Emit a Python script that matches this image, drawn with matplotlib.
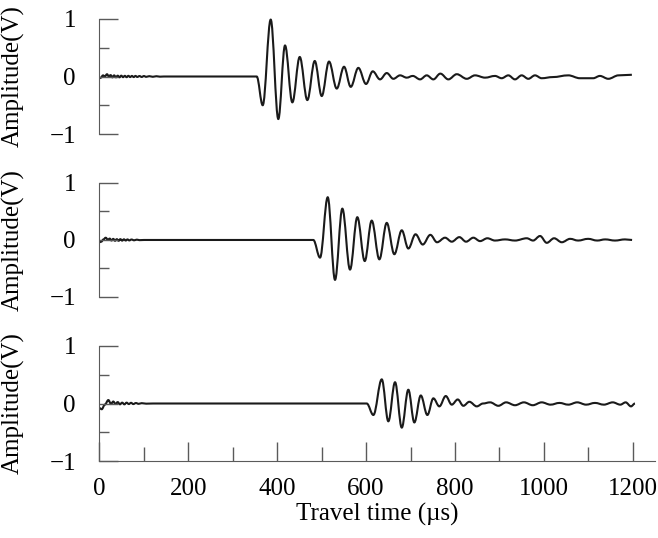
import matplotlib
matplotlib.use("Agg")
import matplotlib.pyplot as plt
from matplotlib.ticker import MultipleLocator
from matplotlib.path import Path
from matplotlib.patches import PathPatch

plt.rcParams['font.family'] = ['Liberation Serif', 'DejaVu Serif']

# travel time (us) and amplitude (V) at the turning points of each trace
t1 = [0, 3, 8, 12, 17, 21, 25, 29, 33, 37, 41, 45, 49, 53, 57, 61, 65, 69, 73, 77,
      81, 85, 90, 95, 100, 105, 112, 120, 128, 136, 145,
      353.8, 367.3, 385.3, 402.4, 417.5, 434, 450.6, 467.7, 484.4, 500.1, 516.5,
      533.9, 550.3, 565.4, 582.5, 599.8, 614.9, 631.3, 646.4, 661.3, 676.4, 691.4,
      705, 721.4, 736.4, 751.3, 767, 785, 804, 826.5, 845, 867.7, 890, 905, 920,
      935, 950, 965, 980, 995, 1020, 1055, 1081, 1111, 1126, 1145, 1168, 1198]
v1 = [-0.03, -0.02, 0.02, 0.0, 0.04, 0.0, 0.025, -0.015, 0.02, -0.015, 0.015, -0.015,
      0.015, -0.012, 0.012, -0.012, 0.012, -0.01, 0.01, -0.01, 0.01, -0.008, 0.008, -0.008,
      0.008, -0.006, 0.006, -0.005, 0.005, -0.003, 0.0,
      0.0, -0.50, 0.99, -0.74, 0.54, -0.45, 0.34, -0.41, 0.27, -0.34, 0.26,
      -0.21, 0.17, -0.18, 0.15, -0.13, 0.09, -0.05, 0.06, -0.04, 0.02, -0.02,
      0.01, -0.05, 0.02, -0.05, 0.05, -0.05, 0.04, -0.04, 0.02, -0.02, 0.01, -0.03, 0.02,
      -0.05, 0.02, -0.04, 0.02, -0.03, -0.01, 0.02, -0.03, -0.03, 0.01, -0.04, 0.02, 0.03]

t2 = [0, 4, 9, 14, 19, 23, 27, 31, 35, 39, 43, 47, 51, 55, 59, 63, 67, 72, 78, 84, 90, 100,
      481.2, 496.3, 513.6, 530, 546.5, 563.8, 580.2, 596.9, 612.6, 629.8, 646.4,
      663.5, 680.2, 695, 711.2, 727.4, 744.5, 759.6, 777.6, 792.7, 809.8, 824.9,
      841.3, 856.4, 872.8, 890, 912.6, 935, 961.5, 975.7, 991.4, 1006.5, 1023,
      1040.3, 1059, 1077, 1099.5, 1120, 1138, 1160, 1182.5, 1198.5]
v2 = [-0.04, -0.03, 0.01, 0.04, 0.0, 0.025, -0.01, 0.02, -0.015, 0.015, -0.015, 0.015,
      -0.012, 0.012, -0.01, 0.01, -0.008, 0.008, -0.006, 0.006, -0.003, 0.0,
      0.0, -0.31, 0.75, -0.70, 0.55, -0.52, 0.40, -0.37, 0.34, -0.34, 0.30,
      -0.25, 0.17, -0.15, 0.10, -0.08, 0.09, -0.04, 0.04, -0.03, 0.05, -0.03,
      0.04, -0.02, 0.03, -0.01, 0.01, -0.01, 0.03, -0.01, 0.07, -0.05, 0.03,
      -0.04, 0.02, -0.01, 0.02, -0.01, 0.01, -0.01, 0.01, 0.0]

t3 = [0, 5, 12, 20, 26, 31, 36, 41, 46, 51, 56, 61, 66, 71, 76, 82, 88, 95, 105, 120,
      601.4, 616.3, 635.2, 650, 665.1, 680.2, 695, 708.5, 723, 737.8, 751.3, 764.8,
      779.2, 792.7, 806.2, 818.8, 832.3, 849, 863, 879, 897.6, 915, 935, 955, 975,
      995, 1015, 1035, 1055, 1075, 1095, 1115, 1135, 1155, 1172, 1184, 1196, 1205]
v3 = [-0.08, -0.10, -0.02, 0.06, -0.01, 0.035, -0.01, 0.025, -0.015, 0.015, -0.015, 0.015,
      -0.01, 0.012, -0.01, 0.008, -0.006, 0.006, -0.003, 0.0,
      0.0, -0.20, 0.42, -0.31, 0.37, -0.42, 0.24, -0.33, 0.14, -0.20, 0.09, -0.05,
      0.13, -0.02, 0.07, -0.04, 0.03, -0.05, 0.0, 0.02, -0.04, 0.02, -0.03, 0.02, -0.03,
      0.02, -0.02, 0.01, -0.02, 0.02, -0.02, 0.01, -0.02, 0.02, -0.02, 0.02, -0.05, 0.0]

traces = [(t1, v1), (t2, v2), (t3, v3)]

xticks = [0, 200, 400, 600, 800, 1000, 1200]
yticks = [-1, 0, 1]


def wave_path(t, v):
    # smooth curve through the turning points (flat tangent at each one)
    verts = [(t[0], v[0])]
    codes = [Path.MOVETO]
    for k in range(1, len(t)):
        d = t[k] - t[k - 1]
        verts += [(t[k - 1] + 0.364 * d, v[k - 1]), (t[k] - 0.364 * d, v[k]), (t[k], v[k])]
        codes += [Path.CURVE4] * 3
    return Path(verts, codes)


gray = '#5a5a5a'
fig = plt.figure(figsize=(6.58, 5.38), dpi=100)
boxes = [[0.1512, 0.7509, 0.8442, 0.2138],
         [0.1512, 0.4480, 0.8442, 0.2119],
         [0.1512, 0.1431, 0.8442, 0.2138]]

for i, (t, v) in enumerate(traces):
    ax = fig.add_axes(boxes[i])
    ax.add_patch(PathPatch(wave_path(t, v), fill=False, edgecolor='#1a1a1a', lw=1.5,
                           clip_on=False, joinstyle='round'))
    ax.set_xlim(0, 1250)
    ax.set_ylim(-1, 1)
    for s in ['top', 'right']:
        ax.spines[s].set_visible(False)
    ax.spines['left'].set_color(gray)
    ax.spines['bottom'].set_color(gray)
    ax.set_yticks(yticks)
    ax.yaxis.set_minor_locator(MultipleLocator(0.5))
    ax.tick_params(axis='y', which='major', direction='in', length=14, width=1,
                   color=gray, pad=17, labelsize=18)
    ax.tick_params(axis='y', which='minor', direction='in', length=7, width=1, color=gray)
    ax.set_ylabel('Amplitude(V)', fontsize=18)
    ax.yaxis.set_label_coords(-0.134, 0.5)
    if i < 2:
        ax.spines['bottom'].set_visible(False)
        ax.tick_params(axis='x', which='both', bottom=False, labelbottom=False)
    else:
        ax.set_xticks(xticks)
        ax.xaxis.set_minor_locator(MultipleLocator(100))
        ax.tick_params(axis='x', which='major', direction='in', length=13.5, width=1,
                       color=gray, pad=12, labelsize=18)
        ax.tick_params(axis='x', which='minor', direction='in', length=10, width=1, color=gray)
        ax.set_xlabel('Travel time (µs)', fontsize=18, labelpad=2)

plt.savefig('out.png', dpi=100)
